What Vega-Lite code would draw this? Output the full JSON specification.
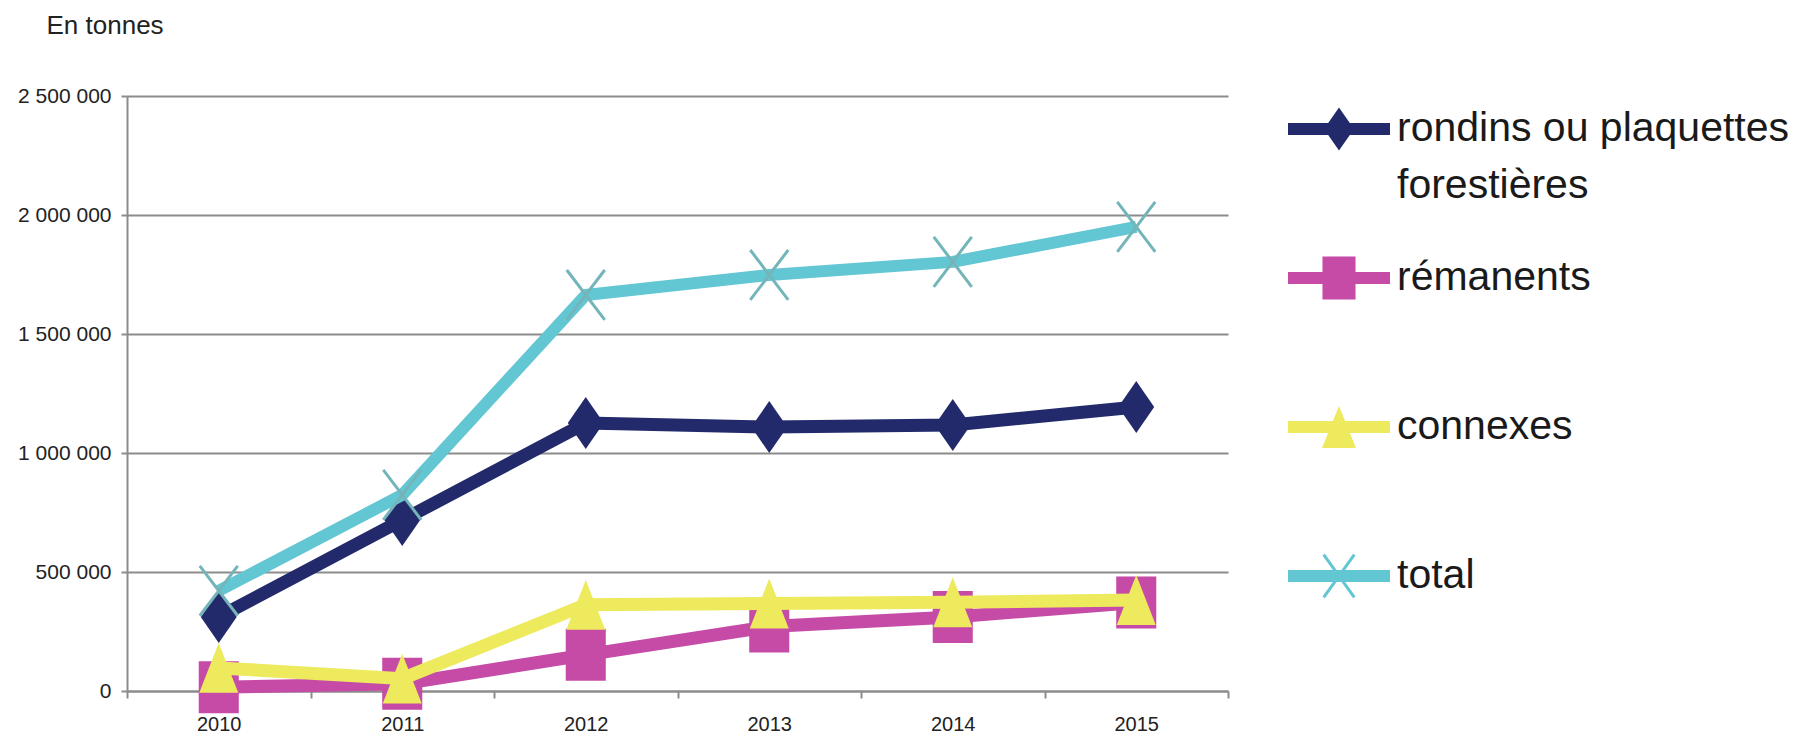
{
  "$schema": "https://vega.github.io/schema/vega-lite/v6.json",
  "width": 1101,
  "height": 595,
  "autosize": {"type": "none"},
  "padding": {"left": 127, "top": 96, "right": 577, "bottom": 50},
  "background": "white",
  "config": {
    "view": {"stroke": null}
  },
  "data": {
    "values": [
      {"year": "2010", "series": "rondins ou plaquettes forestières", "value": 311000},
      {"year": "2011", "series": "rondins ou plaquettes forestières", "value": 718000},
      {"year": "2012", "series": "rondins ou plaquettes forestières", "value": 1126000},
      {"year": "2013", "series": "rondins ou plaquettes forestières", "value": 1109000},
      {"year": "2014", "series": "rondins ou plaquettes forestières", "value": 1118000},
      {"year": "2015", "series": "rondins ou plaquettes forestières", "value": 1193000},
      {"year": "2010", "series": "rémanents", "value": 16000},
      {"year": "2011", "series": "rémanents", "value": 30000},
      {"year": "2012", "series": "rémanents", "value": 152000},
      {"year": "2013", "series": "rémanents", "value": 271000},
      {"year": "2014", "series": "rémanents", "value": 311000},
      {"year": "2015", "series": "rémanents", "value": 372000},
      {"year": "2010", "series": "connexes", "value": 97000},
      {"year": "2011", "series": "connexes", "value": 52000},
      {"year": "2012", "series": "connexes", "value": 362000},
      {"year": "2013", "series": "connexes", "value": 368000},
      {"year": "2014", "series": "connexes", "value": 373000},
      {"year": "2015", "series": "connexes", "value": 382000},
      {"year": "2010", "series": "total", "value": 421000},
      {"year": "2011", "series": "total", "value": 824000},
      {"year": "2012", "series": "total", "value": 1664000},
      {"year": "2013", "series": "total", "value": 1748000},
      {"year": "2014", "series": "total", "value": 1803000},
      {"year": "2015", "series": "total", "value": 1950000}
    ]
  },
  "encoding": {
    "x": {
      "field": "year",
      "type": "ordinal",
      "scale": {"type": "band", "paddingInner": 0, "paddingOuter": 0},
      "axis": {
        "title": null,
        "labelAngle": 0,
        "tickBand": "extent",
        "grid": false,
        "domain": true,
        "domainColor": "#8c8c8c",
        "domainWidth": 2,
        "ticks": true,
        "tickColor": "#8c8c8c",
        "tickWidth": 2,
        "tickSize": 7,
        "labelFont": "Liberation Sans",
        "labelFontSize": 20,
        "labelColor": "#222222",
        "labelPadding": 16
      }
    },
    "y": {
      "field": "value",
      "type": "quantitative",
      "scale": {"domain": [0, 2500000], "nice": false},
      "axis": {
        "values": [0, 500000, 1000000, 1500000, 2000000, 2500000],
        "labelExpr": "replace(format(datum.value, ','), /,/g, ' ')",
        "grid": true,
        "gridColor": "#8c8c8c",
        "gridWidth": 2,
        "domain": true,
        "domainColor": "#8c8c8c",
        "domainWidth": 2,
        "ticks": true,
        "tickColor": "#8c8c8c",
        "tickWidth": 2,
        "tickSize": 6,
        "labelFont": "Liberation Sans",
        "labelFontSize": 21,
        "labelColor": "#222222",
        "labelPadding": 10,
        "title": "En tonnes",
        "titleAngle": 0,
        "titleAlign": "left",
        "titleBaseline": "middle",
        "titleX": -81,
        "titleY": -71,
        "titleFont": "Liberation Sans",
        "titleFontSize": 26,
        "titleFontWeight": "normal",
        "titleColor": "#222222"
      }
    },
    "color": {
      "field": "series",
      "type": "nominal",
      "scale": {
        "domain": ["rondins ou plaquettes forestières", "rémanents", "connexes", "total"],
        "range": ["#222a6b", "#c64ba6", "#eeea5e", "#62c6d3"]
      },
      "legend": {
        "title": null,
        "orient": "none",
        "legendX": 1161,
        "legendY": -18,
        "padding": 0,
        "labelFont": "Liberation Sans",
        "labelFontSize": 41,
        "labelColor": "#1a1a1a",
        "labelLimit": 700,
        "labelOffset": 7,
        "rowPadding": 21,
        "symbolSize": 10404,
        "symbolStrokeWidth": 0,
        "labelExpr": "datum.label == 'rondins ou plaquettes forestières' ? ['rondins ou plaquettes', 'forestières'] : [datum.label, ' ']",
        "encode": {
          "labels": {"update": {"lineHeight": {"value": 57}}},
          "symbols": {
            "update": {
              "shape": {"signal": "datum.value == 'rondins ou plaquettes forestières' ? 'M-1,-0.118H1V0.118H-1ZM0,-0.42L0.294,0L0,0.42L-0.294,0Z' : datum.value == 'rémanents' ? 'M-1,-0.118H1V0.118H-1ZM-0.324,-0.42H0.324V0.42H-0.324Z' : datum.value == 'connexes' ? 'M-1,-0.118H1V0.118H-1ZM0,-0.41L0.333,0.41L-0.333,0.41Z' : 'M-1,-0.118H1V0.118H-1ZM-0.324,-0.403L-0.276,-0.437L0.324,0.403L0.276,0.437ZM0.276,-0.437L0.324,-0.403L-0.276,0.437L-0.324,0.403Z'"},
              "fill": {"scale": "color", "field": "value"},
              "fillOpacity": {"value": 1},
              "opacity": {"value": 1},
              "strokeWidth": {"value": 0},
              "size": {"value": 10404}
            }
          }
        }
      }
    }
  },
  "layer": [
    {
      "transform": [{"filter": "datum.series == 'rondins ou plaquettes forestières'"}],
      "mark": {"type": "line", "strokeWidth": 13, "strokeJoin": "round"}
    },
    {
      "transform": [{"filter": "datum.series == 'rondins ou plaquettes forestières'"}],
      "mark": {"type": "point", "shape": "M0,-1L0.69,0L0,1L-0.69,0Z", "filled": true, "size": 2704, "opacity": 1, "strokeWidth": 0}
    },
    {
      "transform": [{"filter": "datum.series == 'rémanents'"}],
      "mark": {"type": "line", "strokeWidth": 13, "strokeJoin": "round"}
    },
    {
      "transform": [{"filter": "datum.series == 'rémanents'"}],
      "mark": {"type": "point", "shape": "M-0.77,-1H0.77V1H-0.77Z", "filled": true, "size": 2704, "opacity": 1, "strokeWidth": 0}
    },
    {
      "transform": [{"filter": "datum.series == 'connexes'"}],
      "mark": {"type": "line", "strokeWidth": 13, "strokeJoin": "round"}
    },
    {
      "transform": [{"filter": "datum.series == 'connexes'"}],
      "mark": {"type": "point", "shape": "M0,-0.96L0.75,0.96L-0.75,0.96Z", "filled": true, "size": 2704, "opacity": 1, "strokeWidth": 0}
    },
    {
      "transform": [{"filter": "datum.series == 'total'"}],
      "mark": {"type": "line", "strokeWidth": 12, "strokeJoin": "round"}
    },
    {
      "transform": [{"filter": "datum.series == 'total'"}],
      "mark": {"type": "point", "shape": "M-0.776,-0.925L-0.684,-0.995L0.776,0.925L0.684,0.995ZM0.684,-0.995L0.776,-0.925L-0.684,0.995L-0.776,0.925Z", "filled": true, "size": 2704, "opacity": 1, "strokeWidth": 0},
      "encoding": {"color": {"value": "#74b5b9"}}
    }
  ]
}
